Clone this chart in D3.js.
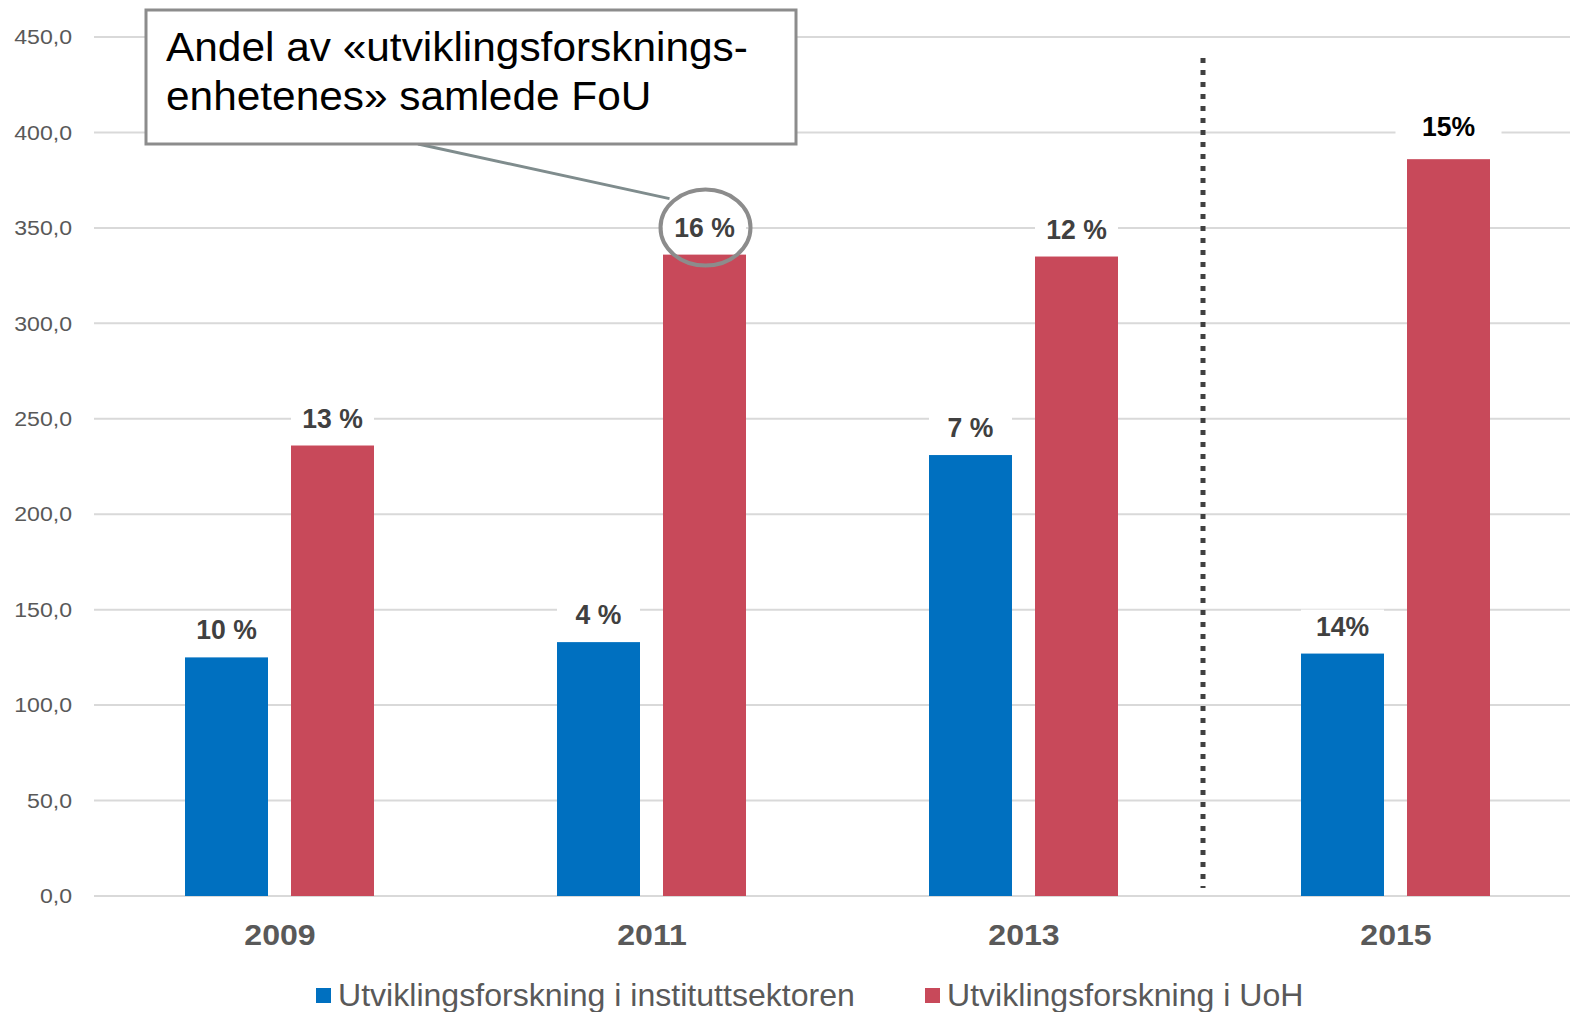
<!DOCTYPE html>
<html>
<head>
<meta charset="utf-8">
<style>
  body { margin: 0; background: #fff; }
  text { font-family: "Liberation Sans", Arial, sans-serif; }
</style>
</head>
<body>
<div id="chart"></div>
<script src="https://cdn.jsdelivr.net/npm/d3@7"></script>
<script>
// data
var years = ["2009", "2011", "2013", "2015"];
var seriesNames = ["Utviklingsforskning i instituttsektoren", "Utviklingsforskning i UoH"];
var instValues = [125, 133, 231, 127];
var uohValues = [236, 336, 335, 386];
var instPct = ["10 %", "4 %", "7 %", "14%"];
var uohPct = ["13 %", "16 %", "12 %", "15%"];
var yTicks = [0, 50, 100, 150, 200, 250, 300, 350, 400, 450];
var calloutLines = ["Andel av «utviklingsforsknings-", "enhetenes» samlede FoU"];

var colors = ["#0070C0", "#C8495A"];

var width = 1570, height = 1012;
var svg = d3.select("#chart").append("svg")
  .attr("width", width)
  .attr("height", height);

var x0 = d3.scaleBand().domain(years).range([94, 1582]);
var x1 = d3.scaleBand().domain([0, 1]).range([91, 280]).paddingInner(0.217);
var y = d3.scaleLinear().domain([0, 450]).range([896, 37]);

var fmt = function(d) { return d3.format(".1f")(d).replace(".", ","); };

// gridlines
svg.append("g").selectAll("line")
  .data(yTicks)
  .enter().append("line")
  .attr("x1", 94).attr("x2", 1582)
  .attr("y1", function(d) { return y(d); })
  .attr("y2", function(d) { return y(d); })
  .style("stroke", "#d9d9d9")
  .style("stroke-width", 2);

// y axis labels
var yAxis = d3.axisLeft(y).tickValues(yTicks).tickFormat(fmt).tickSize(0).tickPadding(0);
var yg = svg.append("g").attr("transform", "translate(72,0)").call(yAxis);
yg.select(".domain").remove();
yg.selectAll("text")
  .attr("transform", "scale(1.1,1)")
  .style("font-family", "'Liberation Sans', Arial, sans-serif")
  .style("font-size", "21px")
  .style("fill", "#595959");

// x axis labels
var xAxis = d3.axisBottom(x0).tickSize(0).tickPadding(0);
var xg = svg.append("g").attr("transform", "translate(0,924)").call(xAxis);
xg.select(".domain").remove();
xg.selectAll("text")
  .attr("transform", "scale(1.07,1)")
  .style("font-family", "'Liberation Sans', Arial, sans-serif")
  .style("font-size", "30px")
  .style("font-weight", "bold")
  .style("fill", "#595959");

// bars
var rows = years.map(function(yr, i) {
  return { year: yr, vals: [instValues[i], uohValues[i]], pct: [instPct[i], uohPct[i]] };
});

var groups = svg.append("g").selectAll("g")
  .data(rows)
  .enter().append("g")
  .attr("transform", function(d) { return "translate(" + x0(d.year) + ",0)"; });

groups.selectAll("rect")
  .data(function(d) { return d.vals.map(function(v, s) { return { s: s, v: v }; }); })
  .enter().append("rect")
  .attr("x", function(d) { return x1(d.s); })
  .attr("width", x1.bandwidth())
  .attr("y", function(d) { return y(d.v); })
  .attr("height", function(d) { return y(0) - y(d.v); })
  .style("fill", function(d) { return colors[d.s]; });

// value labels with white background
var labels = groups.selectAll("g.lbl")
  .data(function(d) {
    return d.vals.map(function(v, s) { return { s: s, v: v, t: d.pct[s], year: d.year }; });
  })
  .enter().append("g")
  .attr("class", "lbl")
  .attr("transform", function(d) {
    var off = d.t === "15%" ? 33 : 28;
    return "translate(" + (x1(d.s) + x1.bandwidth() / 2) + "," + (y(d.v) - off) + ")";
  });

labels.append("rect")
  .attr("x", function(d) { return d.t === "15%" ? -53 : -x1.bandwidth() / 2; })
  .attr("width", function(d) { return d.t === "15%" ? 106 : x1.bandwidth(); })
  .attr("y", -16).attr("height", 32)
  .style("fill", "#fff");

labels.append("text")
  .attr("text-anchor", "middle")
  .attr("dy", "0.36em")
  .attr("transform", "scale(0.95,1)")
  .style("font-size", "28px")
  .style("font-weight", "bold")
  .style("fill", function(d) { return d.t === "15%" ? "#000" : "#404040"; })
  .text(function(d) { return d.t; });

// dotted separator between 2013 and 2015
svg.append("line")
  .attr("x1", x0("2015") - 7).attr("x2", x0("2015") - 7)
  .attr("y1", 58).attr("y2", 888)
  .style("stroke", "#404040")
  .style("stroke-width", 5)
  .style("stroke-dasharray", "5,7");

// callout
var hx = x0("2011") + x1(1) + x1.bandwidth() / 2;
var hy = y(uohValues[1]) - 28;
svg.append("line")
  .attr("x1", 418).attr("y1", 144)
  .attr("x2", hx - 35).attr("y2", hy - 28)
  .style("stroke", "#7f8c8d")
  .style("stroke-width", 3);

svg.append("ellipse")
  .attr("cx", hx + 1).attr("cy", hy + 1)
  .attr("rx", 45).attr("ry", 38)
  .style("fill", "none")
  .style("stroke", "#8c8c8c")
  .style("stroke-width", 4);

svg.append("rect")
  .attr("x", 146).attr("y", 10)
  .attr("width", 650).attr("height", 134)
  .style("fill", "#fff")
  .style("stroke", "#8c8c8c")
  .style("stroke-width", 3);

svg.append("g").selectAll("text")
  .data(calloutLines)
  .enter().append("text")
  .attr("transform", function(d, i) { return "translate(166," + (61 + i * 49) + ") scale(1.06,1)"; })
  .style("font-size", "40px")
  .style("fill", "#000")
  .text(function(d) { return d; });

// legend
var legX = [316, 925];
var leg = svg.append("g").selectAll("g")
  .data(seriesNames)
  .enter().append("g")
  .attr("transform", function(d, i) { return "translate(" + legX[i] + ",0)"; });

leg.append("rect")
  .attr("x", 0).attr("y", 988)
  .attr("width", 15).attr("height", 15)
  .style("fill", function(d, i) { return colors[i]; });

leg.append("text")
  .attr("transform", "translate(22,1006) scale(1.035,1)")
  .style("font-size", "31px")
  .style("fill", "#595959")
  .text(function(d) { return d; });
</script>
</body>
</html>
